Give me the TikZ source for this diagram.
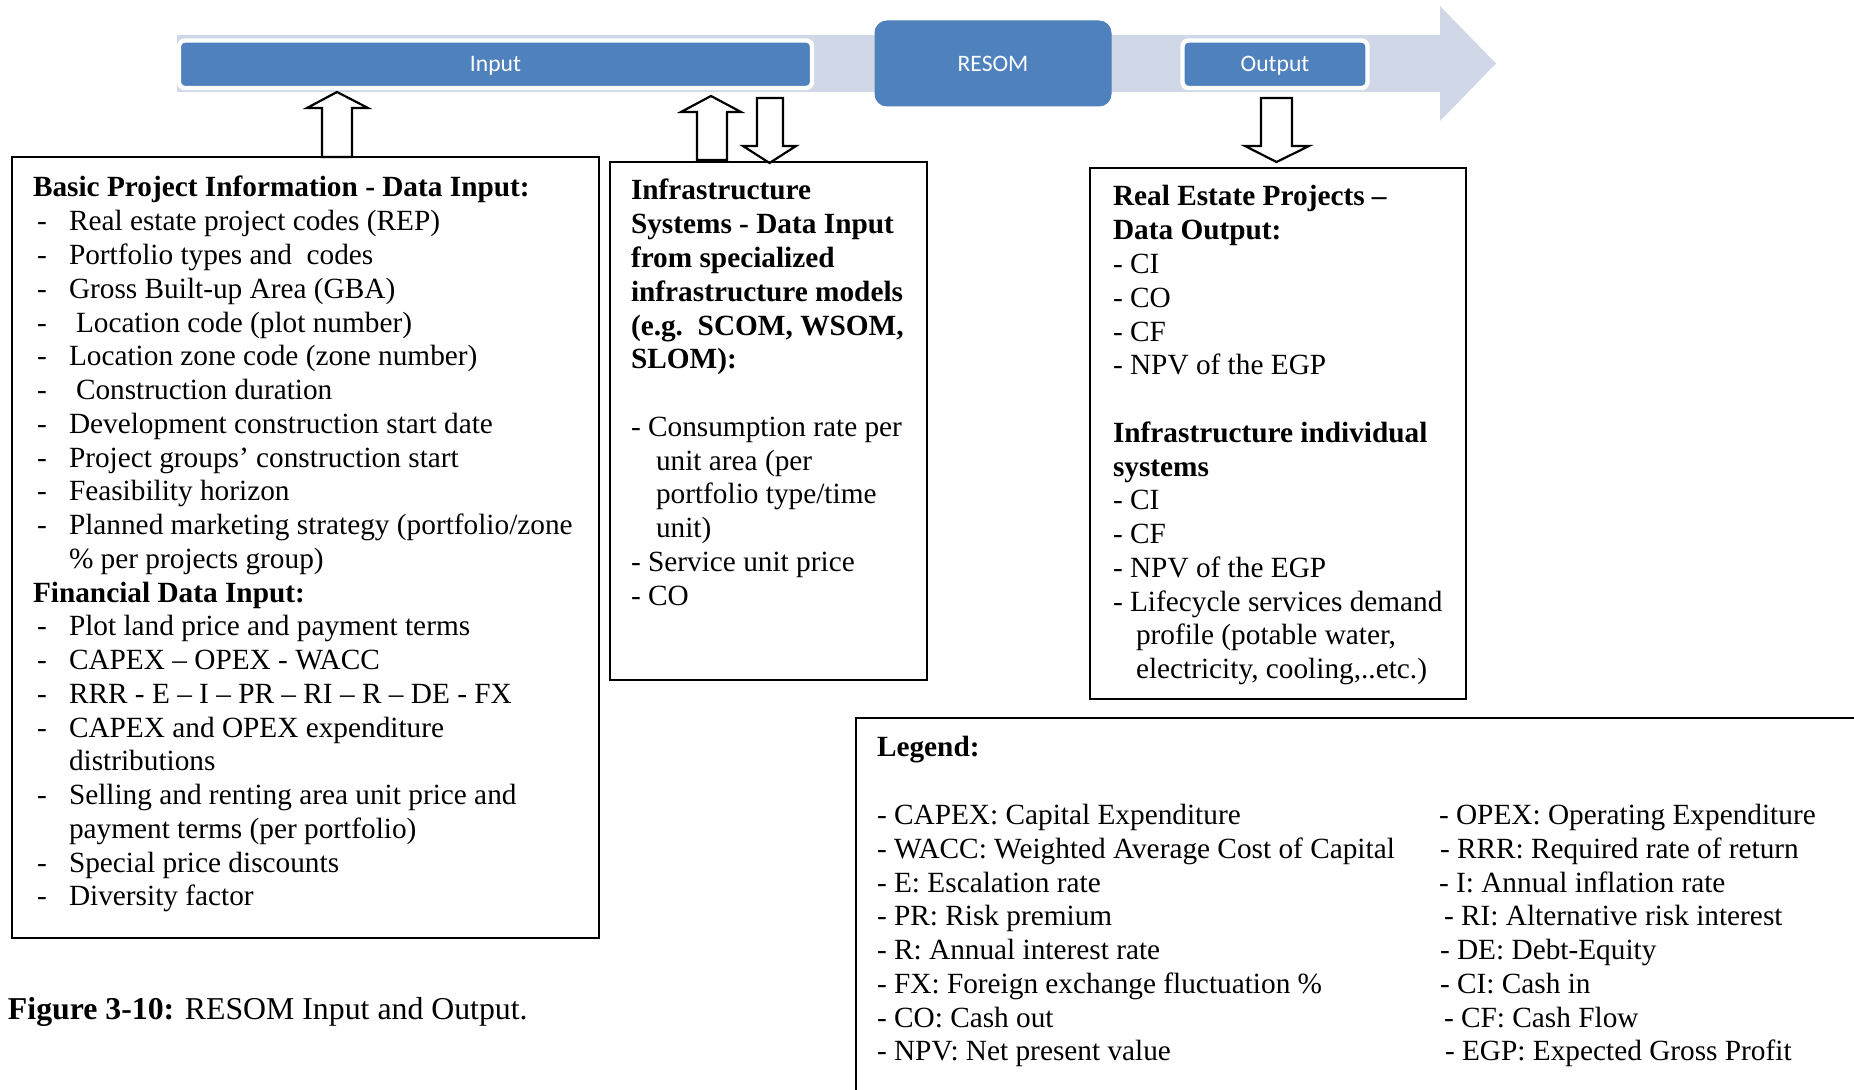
\documentclass[tikz,border=0pt]{standalone}
\usepackage{fontspec}
\setmainfont{Liberation Serif}
\newfontfamily\smartfont{Carlito}
\definecolor{procblue}{HTML}{4F81BD}
\definecolor{bandblue}{HTML}{D0D8E8}

\begin{document}
\begin{tikzpicture}[x=0.5pt,y=-0.5pt,
  txt/.style={anchor=base west, inner sep=0pt, outer sep=0pt,
    font=\fontsize{14.65}{16.85}\selectfont},
  boxline/.style={draw=black, line width=1pt},
  blockarrow/.style={draw=black, fill=white, line width=1.1pt, line join=miter},
  procbox/.style={fill=procblue, draw=white, line width=2.2pt, rounded corners=3pt,
    text=white, inner sep=0pt, text depth=0pt, font=\smartfont\fontsize{11.8}{14}\selectfont},
  corebox/.style={fill=procblue, draw=procblue, line width=0.5pt, rounded corners=6pt,
    text=white, inner sep=0pt, font=\smartfont\fontsize{11.8}{14}\selectfont}]
\useasboundingbox (0,0) rectangle (1854,1090);

% process band with arrow head
\fill[bandblue] (177,35) -- (1440,35) -- (1440,6) -- (1496,63.5) -- (1440,121)
  -- (1440,92) -- (177,92) -- cycle;

% process stages
\node[procbox, minimum width=316.5pt, minimum height=23.75pt] (input) at (495.5,64.25) {Input};
\node[corebox, minimum width=118pt, minimum height=42.5pt] (resom) at (993,63.5) {RESOM};
\node[procbox, minimum width=92.5pt, minimum height=23.75pt] (output) at (1275,64.25) {Output};

% block arrows between the boxes and the band
\draw[blockarrow] (322,157) -- (322,108) -- (307,108) -- (337,92) -- (368,108)
  -- (352,108) -- (352,157) -- cycle;
\draw[blockarrow] (697,160) -- (697,112) -- (681,112) -- (711,96) -- (741,112)
  -- (727,112) -- (727,160) -- cycle;
\draw[blockarrow] (757,98) -- (783,98) -- (783,146) -- (796,146) -- (769.5,163)
  -- (743,146) -- (757,146) -- cycle;
\draw[blockarrow] (1261,98) -- (1292,98) -- (1292,146) -- (1309,146) -- (1276.5,162)
  -- (1245,146) -- (1261,146) -- cycle;

% frames
\draw[boxline] (12,157) rectangle (599,938);
\draw[boxline] (610,162) rectangle (927,680);
\draw[boxline] (1090,168) rectangle (1466,699);
\draw[boxline] (1860,718) -- (856,718) -- (856,1096);

% basic project information
\foreach \hasdash/\tx/\ltext [count=\i] in {
  0/33/{\bfseries Basic Project Information - Data Input:},
  1/69/{Real estate project codes (REP)},
  1/69/{Portfolio types and\ \ codes},
  1/69/{Gross Built-up Area (GBA)},
  1/76/{Location code (plot number)},
  1/69/{Location zone code (zone number)},
  1/76/{Construction duration},
  1/69/{Development construction start date},
  1/69/{Project groups’ construction start},
  1/69/{Feasibility horizon},
  1/69/{Planned marketing strategy (portfolio/zone},
  0/69/{\% per projects group)},
  0/33/{\bfseries Financial Data Input:},
  1/69/{Plot land price and payment terms},
  1/69/{CAPEX – OPEX - WACC},
  1/69/{RRR - E – I – PR – RI – R – DE - FX},
  1/69/{CAPEX and OPEX expenditure},
  0/69/{distributions},
  1/69/{Selling and renting area unit price and},
  0/69/{payment terms (per portfolio)},
  1/69/{Special price discounts},
  1/69/{Diversity factor}}
{
  \node[txt] (basic-\i) at (\tx,{197+(\i-1)*33.76}) {\ltext};
  \ifnum\hasdash=1 \node[txt] (basic-dash-\i) at (37,{197+(\i-1)*33.76}) {-};\fi
}

% infrastructure systems input
\foreach \n/\tx/\ltext in {
  1/631/{\bfseries Infrastructure},
  2/631/{\bfseries Systems - Data Input},
  3/631/{\bfseries from specialized},
  4/631/{\bfseries infrastructure models},
  5/631/{\bfseries (e.g.\ \ SCOM, WSOM,},
  6/631/{\bfseries SLOM):},
  8/631/{- Consumption rate per},
  9/656/{unit area (per},
  10/656/{portfolio type/time},
  11/656/{unit)},
  12/631/{- Service unit price},
  13/631/{- CO}}
{
  \node[txt] (infra-\n) at (\tx,{200+(\n-1)*33.76}) {\ltext};
}

% output
\foreach \n/\tx/\ltext in {
  1/1113/{\bfseries Real Estate Projects –},
  2/1113/{\bfseries Data Output:},
  3/1113/{- CI},
  4/1113/{- CO},
  5/1113/{- CF},
  6/1113/{- NPV of the EGP},
  8/1113/{\bfseries Infrastructure individual},
  9/1113/{\bfseries systems},
  10/1113/{- CI},
  11/1113/{- CF},
  12/1113/{- NPV of the EGP},
  13/1113/{- Lifecycle services demand},
  14/1136/{profile (potable water,},
  15/1136/{electricity, cooling,..etc.)}}
{
  \node[txt] (out-\n) at (\tx,{206+(\n-1)*33.76}) {\ltext};
}

% legend
\node[txt] (legend) at (877,757) {\bfseries Legend:};
\foreach \ltext [count=\k] in {
  {- CAPEX: Capital Expenditure},
  {- WACC: Weighted Average Cost of Capital},
  {- E: Escalation rate},
  {- PR: Risk premium},
  {- R: Annual interest rate},
  {- FX: Foreign exchange fluctuation \%},
  {- CO: Cash out},
  {- NPV: Net present value}}
{
  \node[txt] (leg-l-\k) at (877,{824.5+(\k-1)*33.76}) {\ltext};
}
\foreach \tx/\ltext [count=\k] in {
  1439/{- OPEX: Operating Expenditure},
  1440/{- RRR: Required rate of return},
  1439/{- I: Annual inflation rate},
  1444/{- RI: Alternative risk interest},
  1440/{- DE: Debt-Equity},
  1440/{- CI: Cash in},
  1444/{- CF: Cash Flow},
  1445/{- EGP: Expected Gross Profit}}
{
  \node[txt] (leg-r-\k) at (\tx,{824.5+(\k-1)*33.76}) {\ltext};
}

% caption
\node[txt, font=\fontsize{15.9}{18}\selectfont] (caption) at (8,1019)
  {\textbf{Figure 3-10:} RESOM Input and Output.};
\end{tikzpicture}
\end{document}
